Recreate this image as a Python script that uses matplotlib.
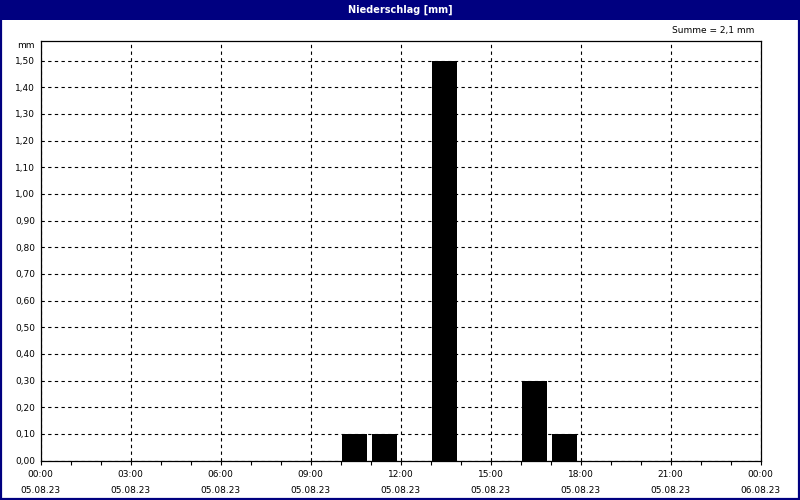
import matplotlib.pyplot as plt
from matplotlib.patches import Rectangle

# hourly precipitation, 05.08.23
hours = [10, 11, 13, 16, 17]
rain_mm = [0.1, 0.1, 1.5, 0.3, 0.1]
y_ticks = [0.0, 0.1, 0.2, 0.3, 0.4, 0.5, 0.6, 0.7, 0.8, 0.9, 1.0, 1.1, 1.2, 1.3, 1.4, 1.5]
x_ticks = [0, 3, 6, 9, 12, 15, 18, 21, 24]
x_labels = ["00:00\n05.08.23", "03:00\n05.08.23", "06:00\n05.08.23", "09:00\n05.08.23",
            "12:00\n05.08.23", "15:00\n05.08.23", "18:00\n05.08.23", "21:00\n05.08.23",
            "00:00\n06.08.23"]
title = "Niederschlag [mm]"
summe = "Summe = 2,1 mm"

navy = "#000080"
plt.rcParams['font.family'] = ['DejaVu Sans']

fig = plt.figure(figsize=(8, 5), dpi=100)
fig.patch.set_facecolor("white")

# title bar and outer frame
fig.patches.append(Rectangle((0, 1 - 20 / 500), 1, 20 / 500, transform=fig.transFigure,
                             facecolor=navy, edgecolor="none", zorder=0))
fig.patches.append(Rectangle((1 / 800, 1.5 / 500), 798 / 800, 497 / 500, transform=fig.transFigure,
                             facecolor="none", edgecolor=navy, linewidth=1.6, zorder=5))
fig.text(0.5, 1 - 9.5 / 500, title, color="white", fontsize=7, fontweight="bold",
         ha="center", va="center")

ax = fig.add_axes([40.5 / 800, 39.5 / 500, 720 / 800, 420 / 500])
ax.bar([h + 0.05 for h in hours], rain_mm, width=0.82, align="edge", color="black", zorder=3)

ax.set_xlim(0, 24)
ax.set_ylim(0, 1.575)
ax.set_xticks(x_ticks)
ax.set_xticklabels(x_labels, fontsize=6.5, linespacing=1.95)
ax.set_xticks(range(25), minor=True)
ax.set_yticks(y_ticks)
ax.set_yticklabels([f"{v:.2f}".replace(".", ",") for v in y_ticks], fontsize=6.5)

ax.tick_params(axis="x", which="both", direction="out", length=3, width=0.8, pad=4)
ax.tick_params(axis="y", which="both", length=0, pad=4)

ax.grid(True, which="major", color="black", linestyle=(0, (3, 3)), linewidth=0.8, zorder=1)
ax.set_axisbelow(True)
for s in ax.spines.values():
    s.set_linewidth(0.9)

fig.text(35 / 800, 1 - 45 / 500, "mm", fontsize=6.5, ha="right", va="center")
fig.text(754 / 800, 1 - 31 / 500, summe, fontsize=6.5, ha="right", va="center")

plt.savefig("out.png", dpi=100)
